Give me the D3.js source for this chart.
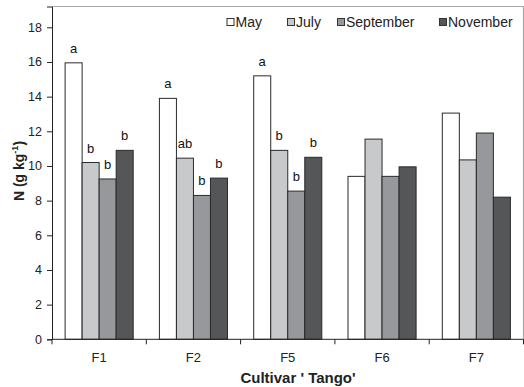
<!DOCTYPE html>
<html>
<head>
<meta charset="utf-8">
<script src="https://cdn.jsdelivr.net/npm/d3@7/dist/d3.min.js"></script>
<style>
  body { margin: 0; background: #fff; }
  svg { display: block; font-family: "Liberation Sans", Arial, sans-serif; }
</style>
</head>
<body>
<svg id="chart" width="524" height="387"></svg>
<script>
// Nitrogen content per cultivar, sampled in four months
const cultivars = ["F1", "F2", "F5", "F6", "F7"];
const months = ["May", "July", "September", "November"];
const mayValues = [15.95, 13.9, 15.2, 9.4, 13.05];
const julyValues = [10.2, 10.45, 10.9, 11.55, 10.35];
const septemberValues = [9.25, 8.3, 8.55, 9.4, 11.9];
const novemberValues = [10.9, 9.3, 10.5, 9.95, 8.2];
// Significance letters (empty = not shown)
const mayLetters = ["a", "a", "a", "", ""];
const julyLetters = ["b", "ab", "b", "", ""];
const septemberLetters = ["b", "b", "b", "", ""];
const novemberLetters = ["b", "b", "b", "", ""];
const yTicks = [0, 2, 4, 6, 8, 10, 12, 14, 16, 18];
const yMax = 19.2;

const seriesValues = [mayValues, julyValues, septemberValues, novemberValues];
const seriesLetters = [mayLetters, julyLetters, septemberLetters, novemberLetters];
const fills = ["#ffffff", "#c8c9cb", "#97989b", "#555658"];

const svg = d3.select("#chart");
const plotL = 52, plotR = 523.5, plotT = 6.5, plotB = 339.3;

const x = d3.scaleBand().domain(cultivars).range([plotL, plotR]).paddingInner(0.278).paddingOuter(0.139);
const xs = d3.scaleBand().domain(months).range([0, x.bandwidth()]);
const y = d3.scaleLinear().domain([0, yMax]).range([plotB, plotT]);

// plot frame (top and right edges)
svg.append("path")
  .attr("d", `M${plotL},${plotT}H${plotR}V${plotB}`)
  .attr("fill", "none").attr("stroke", "#a8a8a8").attr("stroke-width", 1.2);

// bars
const data = [];
cultivars.forEach((c, i) => months.forEach((m, j) => {
  data.push({ c, m, j, v: seriesValues[j][i], t: seriesLetters[j][i] });
}));

const g = svg.append("g");
g.selectAll("rect").data(data).join("rect")
  .attr("x", d => x(d.c) + xs(d.m))
  .attr("y", d => y(d.v))
  .attr("width", xs.bandwidth())
  .attr("height", d => y(0) - y(d.v))
  .attr("fill", d => fills[d.j])
  .attr("stroke", "#2a2a2a").attr("stroke-width", 1);

g.selectAll("text.lbl").data(data.filter(d => d.t)).join("text")
  .attr("class", "lbl")
  .attr("x", d => x(d.c) + xs(d.m) + xs.bandwidth() / 2)
  .attr("y", d => y(d.v) - 10)
  .attr("text-anchor", "middle")
  .attr("font-size", 13).attr("fill", "#111")
  .text(d => d.t);

// y axis
const yAxis = svg.append("g").attr("transform", `translate(${plotL},0)`)
  .call(d3.axisLeft(y).tickValues(yTicks).tickSize(5).tickPadding(5));
yAxis.select(".domain").attr("stroke", "#222");
yAxis.selectAll(".tick line").attr("stroke", "#222");
yAxis.selectAll("text").attr("font-size", 12.5).attr("fill", "#222")
  .attr("font-family", "Liberation Sans, Arial, sans-serif");

// x axis: baseline, ticks between categories, labels at centers
svg.append("line").attr("x1", plotL).attr("x2", plotR).attr("y1", plotB).attr("y2", plotB)
  .attr("stroke", "#222").attr("stroke-width", 1);
const step = x.step();
const bounds = d3.range(cultivars.length + 1).map(i => plotL + i * step);
svg.selectAll("line.xt").data(bounds).join("line").attr("class", "xt")
  .attr("x1", d => d).attr("x2", d => d).attr("y1", plotB).attr("y2", plotB + 5)
  .attr("stroke", "#222");
svg.selectAll("text.xl").data(cultivars).join("text").attr("class", "xl")
  .attr("x", d => x(d) + x.bandwidth() / 2).attr("y", 362)
  .attr("text-anchor", "middle").attr("font-size", 13).attr("fill", "#222")
  .text(d => d);

// axis titles
svg.append("text").attr("x", 298).attr("y", 383)
  .attr("text-anchor", "middle").attr("font-size", 15).attr("font-weight", "bold").attr("fill", "#222")
  .text("Cultivar ' Tango'");

const yt = svg.append("text")
  .attr("transform", `translate(24,171) rotate(-90)`)
  .attr("text-anchor", "middle").attr("font-size", 14).attr("font-weight", "bold").attr("fill", "#222");
yt.append("tspan").text("N (g kg");
yt.append("tspan").attr("dy", -6).attr("font-size", 9).text("-1");
yt.append("tspan").attr("dy", 6).text(")");

// legend
const legendX = [226.5, 287, 337, 439];
const lg = svg.selectAll("g.leg").data(months).join("g").attr("class", "leg")
  .attr("transform", (d, i) => `translate(${legendX[i]},27)`);
lg.append("rect").attr("x", 0.5).attr("y", -8.5).attr("width", 7).attr("height", 7)
  .attr("fill", (d, i) => fills[i]).attr("stroke", "#333").attr("stroke-width", 1);
lg.append("text").attr("x", 9).attr("y", 0).attr("font-size", 14).attr("fill", "#222").text(d => d);
</script>
</body>
</html>
